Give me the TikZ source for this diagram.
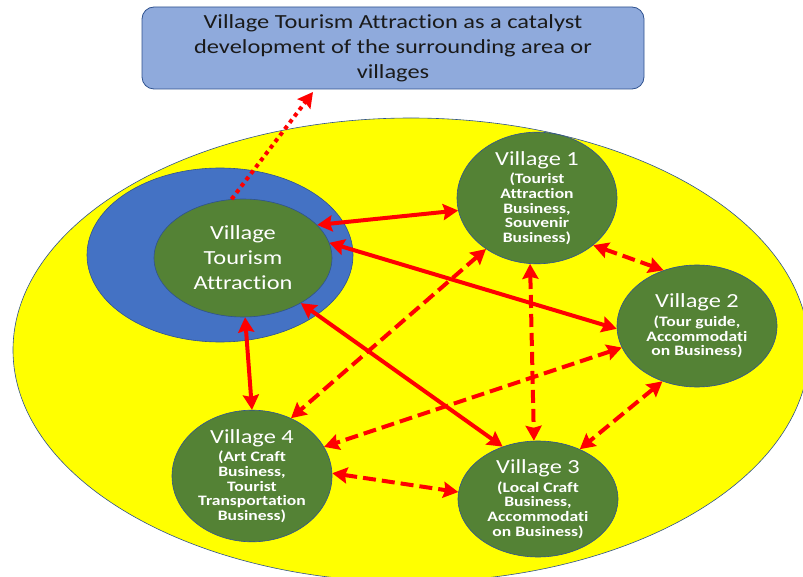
\documentclass[tikz,border=0pt]{standalone}
\usepackage{fontspec}
\setmainfont[FakeStretch=1.22,Ligatures=NoCommon,RawFeature={-liga;-clig}]{Carlito}
\usetikzlibrary{shapes.geometric,arrows.meta}
\definecolor{yel}{HTML}{FFFF00}
\definecolor{blu}{HTML}{4472C4}
\definecolor{grn}{HTML}{548235}
\definecolor{lblu}{HTML}{8FAADC}
\definecolor{edge}{HTML}{2F528F}
\definecolor{rd}{HTML}{FF0000}
\definecolor{txt}{HTML}{1A1A1A}
\newcommand{\vtitle}[1]{{\fontsize{20}{20}\mdseries\selectfont #1}}
\begin{document}
\begin{tikzpicture}[x=1pt,y=-1pt,
  village/.style={ellipse,draw=edge,line width=0.6pt,fill=grn,inner sep=0pt,
    minimum width=160pt,minimum height=120pt,text=white,align=center,
    font=\fontsize{14.4}{14.6}\bfseries\selectfont},
  link/.style={draw=rd,line width=4pt,{Stealth[length=15pt,width=16pt,inset=2pt]}-{Stealth[length=15pt,width=16pt,inset=2pt]}},
  dlink/.style={link,dash pattern=on 13pt off 6pt}
]
\useasboundingbox (0,0) rectangle (803,577);
\begin{scope}
\clip (0,0) rectangle (803,577);
\draw[fill=yel,draw=edge,line width=0.6pt] (411,350) ellipse [x radius=398,y radius=232];
\end{scope}
\node[ellipse,fill=blu,draw=edge,line width=0.6pt,minimum width=266pt,minimum height=174pt,inner sep=0pt] (blue) at (220,255) {};
\node[village,minimum width=178pt,minimum height=118pt,font=\fontsize{20}{25}\selectfont] (vta) at (243,258) {Village\\Tourism\\Attraction};
\node[village] (v1) at (537,198) {\vtitle{Village 1}\\[4pt](Tourist\\Attraction\\Business,\\Souvenir\\Business)};
\node[village,minimum height=122pt] (v2) at (697,326) {\vtitle{Village 2}\\[4pt](Tour guide,\\Accommodati\\on Business)};
\node[village,minimum height=118pt] (v4) at (252,476) {\vtitle{Village 4}\\[4pt](Art Craft\\Business,\\Tourist\\Transportation\\Business)};
\node[village,minimum height=116pt] (v3) at (538,499) {\vtitle{Village 3}\\[4pt](Local Craft\\Business,\\Accommodati\\on Business)};
\node[rectangle,rounded corners=12pt,fill=lblu,draw=edge,line width=0.8pt,minimum width=502pt,minimum height=82pt,
  text=txt,align=center,font=\fontsize{20}{25}\selectfont] (top) at (393,48)
  {Village Tourism Attraction as a catalyst\\development of the surrounding area or\\villages};
% connectors
\coordinate (dotend) at (313,92);
\draw[draw=rd,line width=4pt,dash pattern=on 4pt off 4pt,-{Stealth[length=15pt,width=16pt,inset=2pt]}] (vta.101) -- (dotend);
\draw[link] (vta.24) -- (v1.189);
\draw[link] (vta.10) -- (v2.182);
\draw[link] (vta.-38) -- (v3.124);
\draw[link] (vta.-88) -- (v4.90);
\draw[dlink] (v1.-135) -- (v4.56);
\draw[dlink] (v1.-96) -- (v3.94);
\draw[dlink] (v1.-40) -- (v2.121);
\draw[dlink] (v2.196) -- (v4.22);
\draw[dlink] (v2.-122) -- (v3.50);
\draw[dlink] (v4.2) -- (v3.175);
\end{tikzpicture}
\end{document}
